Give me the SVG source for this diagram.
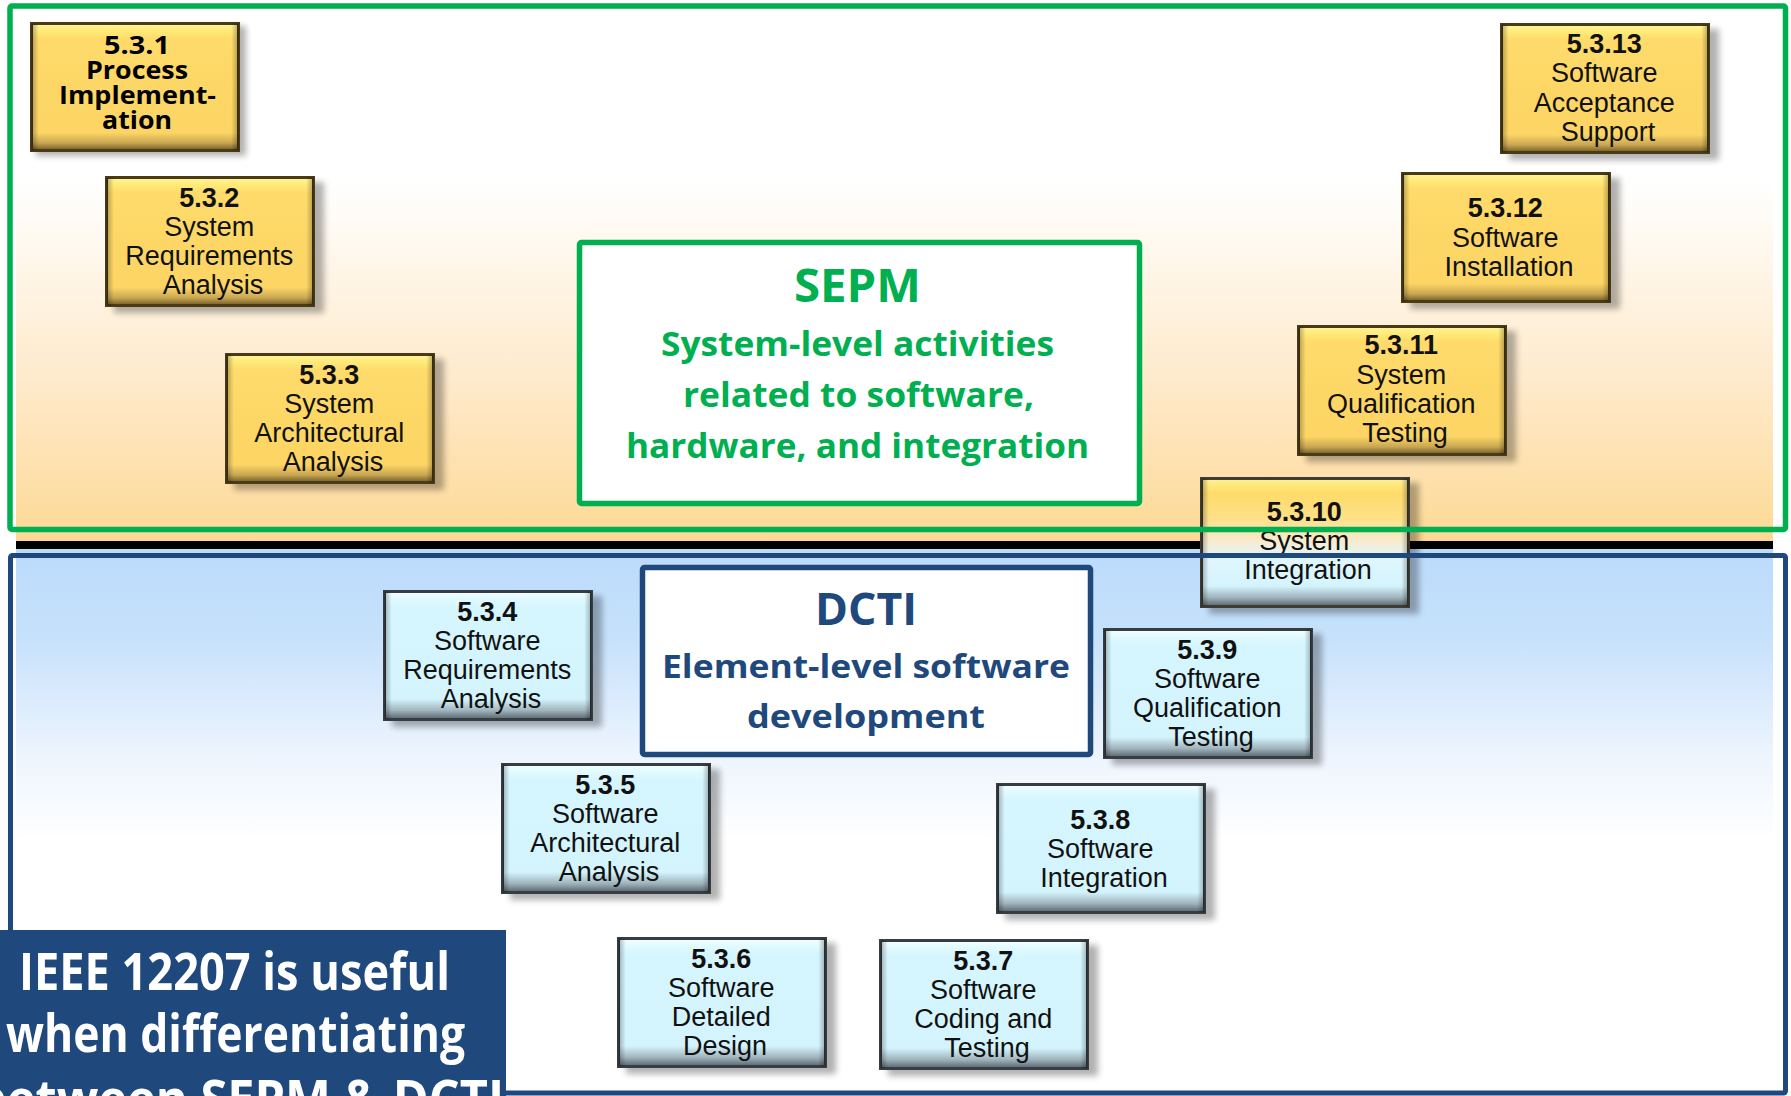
<svg xmlns="http://www.w3.org/2000/svg" width="1791" height="1096" viewBox="0 0 1791 1096">
  <defs>
    <linearGradient id="bandTop" gradientUnits="userSpaceOnUse" x1="0" y1="10" x2="0" y2="541">
      <stop offset="0" stop-color="#ffffff"/>
      <stop offset="0.32" stop-color="#ffffff"/>
      <stop offset="0.7" stop-color="#feeacb"/>
      <stop offset="1" stop-color="#fdd995"/>
    </linearGradient>
    <linearGradient id="bandLow" gradientUnits="userSpaceOnUse" x1="0" y1="549" x2="0" y2="840">
      <stop offset="0" stop-color="#bbdbfb"/>
      <stop offset="0.3" stop-color="#c6e1fb"/>
      <stop offset="0.72" stop-color="#eef5fe"/>
      <stop offset="1" stop-color="#ffffff"/>
    </linearGradient>
    <linearGradient id="gY" x1="0" y1="0" x2="0" y2="1">
      <stop offset="0" stop-color="#fff3a0"/>
      <stop offset="0.05" stop-color="#ffec7a"/>
      <stop offset="0.12" stop-color="#fedb6b"/>
      <stop offset="0.5" stop-color="#fdd766"/>
      <stop offset="0.86" stop-color="#fcd565"/>
      <stop offset="0.94" stop-color="#c9a752"/>
      <stop offset="1" stop-color="#6e5826"/>
    </linearGradient>
    <linearGradient id="gB" x1="0" y1="0" x2="0" y2="1">
      <stop offset="0" stop-color="#f6ffff"/>
      <stop offset="0.05" stop-color="#e2fbff"/>
      <stop offset="0.12" stop-color="#d6f6ff"/>
      <stop offset="0.84" stop-color="#d4f4fd"/>
      <stop offset="0.93" stop-color="#9fb3bc"/>
      <stop offset="1" stop-color="#55626a"/>
    </linearGradient>
    <linearGradient id="gMix" x1="0" y1="0" x2="0" y2="1">
      <stop offset="0" stop-color="#fff3a0"/>
      <stop offset="0.05" stop-color="#ffe87a"/>
      <stop offset="0.12" stop-color="#fedb6a"/>
      <stop offset="0.32" stop-color="#fde08a"/>
      <stop offset="0.5" stop-color="#f6ecd4"/>
      <stop offset="0.62" stop-color="#e0f6fc"/>
      <stop offset="0.84" stop-color="#d4f4fd"/>
      <stop offset="0.93" stop-color="#9fb3bc"/>
      <stop offset="1" stop-color="#55626a"/>
    </linearGradient>
    <linearGradient id="gSide" x1="0" y1="0" x2="1" y2="0">
      <stop offset="0" stop-color="#000" stop-opacity="0.3"/>
      <stop offset="0.035" stop-color="#000" stop-opacity="0"/>
      <stop offset="0.965" stop-color="#000" stop-opacity="0"/>
      <stop offset="1" stop-color="#000" stop-opacity="0.3"/>
    </linearGradient>
    <filter id="soft" x="-10%" y="-10%" width="125%" height="125%">
      <feGaussianBlur stdDeviation="3"/>
    </filter>
  </defs>

  <style>
    .shadow { fill: #000; opacity: 0.3; filter: url(#soft); }
    .sys .body { fill: url(#gY); stroke: #4a3b17; stroke-width: 3; }
    .sw .body { fill: url(#gB); stroke: #363d43; stroke-width: 3; }
    .mix .body { fill: url(#gMix); stroke: #3e3c33; stroke-width: 3; }
    .edge { fill: url(#gSide); }
    .nt { font-family: "Liberation Sans", Arial, sans-serif; font-size: 27px; fill: #111; text-anchor: middle; }
    .nt .num { font-weight: bold; }
    .cal { font-family: "Open Sans", "Noto Sans", sans-serif; font-weight: bold; text-anchor: start; }
    .pi { font-size: 25px; fill: #000; }
    .sepm { fill: #00b050; }
    .dcti { fill: #1f497d; }
    .note { fill: #ffffff; font-size: 52px; }
  </style>

  <rect width="1791" height="1096" fill="#ffffff"/>

  <!-- background bands of the process chart -->
  <rect x="16" y="10" width="1757" height="531" fill="url(#bandTop)"/>
  <rect x="16" y="549" width="1757" height="547" fill="url(#bandLow)"/>
  <rect x="16" y="541" width="1757" height="8" fill="#000"/>

  <!-- process boxes -->
  <g id="n5-3-1" class="sys">
    <rect class="shadow" x="36" y="26" width="210" height="130"/>
    <rect class="body" x="31.5" y="23.5" width="207" height="127"/>
    <rect class="edge" x="31.5" y="23.5" width="207" height="127"/>
    <text class="cal pi">
      <tspan x="104" y="54" textLength="66" lengthAdjust="spacingAndGlyphs">5.3.1</tspan>
      <tspan x="86" y="79" textLength="102" lengthAdjust="spacingAndGlyphs">Process</tspan>
      <tspan x="59" y="104" textLength="157" lengthAdjust="spacingAndGlyphs">Implement-</tspan>
      <tspan x="102" y="129" textLength="70" lengthAdjust="spacingAndGlyphs">ation</tspan>
    </text>
  </g>

  <g id="n5-3-2" class="sys">
    <rect class="shadow" x="114" y="182" width="210" height="131"/>
    <rect class="body" x="106.5" y="177.5" width="207" height="128"/>
    <rect class="edge" x="106.5" y="177.5" width="207" height="128"/>
    <text class="nt">
      <tspan class="num" x="213" y="207">5.3.2</tspan>
      <tspan x="213" y="236">System</tspan>
      <tspan x="213" y="265">Requirements</tspan>
      <tspan x="213" y="294">Analysis</tspan>
    </text>
  </g>

  <g id="n5-3-3" class="sys">
    <rect class="shadow" x="234" y="359" width="210" height="131"/>
    <rect class="body" x="226.5" y="354.5" width="207" height="128"/>
    <rect class="edge" x="226.5" y="354.5" width="207" height="128"/>
    <text class="nt">
      <tspan class="num" x="333" y="384">5.3.3</tspan>
      <tspan x="333" y="413">System</tspan>
      <tspan x="333" y="442">Architectural</tspan>
      <tspan x="333" y="471">Analysis</tspan>
    </text>
  </g>

  <g id="n5-3-4" class="sw">
    <rect class="shadow" x="392" y="596" width="210" height="131"/>
    <rect class="body" x="384.5" y="591.5" width="207" height="128"/>
    <rect class="edge" x="384.5" y="591.5" width="207" height="128"/>
    <text class="nt">
      <tspan class="num" x="491" y="621">5.3.4</tspan>
      <tspan x="491" y="650">Software</tspan>
      <tspan x="491" y="679">Requirements</tspan>
      <tspan x="491" y="708">Analysis</tspan>
    </text>
  </g>

  <g id="n5-3-5" class="sw">
    <rect class="shadow" x="510" y="769" width="210" height="131"/>
    <rect class="body" x="502.5" y="764.5" width="207" height="128"/>
    <rect class="edge" x="502.5" y="764.5" width="207" height="128"/>
    <text class="nt">
      <tspan class="num" x="609" y="794">5.3.5</tspan>
      <tspan x="609" y="823">Software</tspan>
      <tspan x="609" y="852">Architectural</tspan>
      <tspan x="609" y="881">Analysis</tspan>
    </text>
  </g>

  <g id="n5-3-6" class="sw">
    <rect class="shadow" x="626" y="943" width="210" height="131"/>
    <rect class="body" x="618.5" y="938.5" width="207" height="128"/>
    <rect class="edge" x="618.5" y="938.5" width="207" height="128"/>
    <text class="nt">
      <tspan class="num" x="725" y="968">5.3.6</tspan>
      <tspan x="725" y="997">Software</tspan>
      <tspan x="725" y="1026">Detailed</tspan>
      <tspan x="725" y="1055">Design</tspan>
    </text>
  </g>

  <g id="n5-3-7" class="sw">
    <rect class="shadow" x="888" y="945" width="210" height="131"/>
    <rect class="body" x="880.5" y="940.5" width="207" height="128"/>
    <rect class="edge" x="880.5" y="940.5" width="207" height="128"/>
    <text class="nt">
      <tspan class="num" x="987" y="970">5.3.7</tspan>
      <tspan x="987" y="999">Software</tspan>
      <tspan x="987" y="1028">Coding and</tspan>
      <tspan x="987" y="1057">Testing</tspan>
    </text>
  </g>

  <g id="n5-3-8" class="sw">
    <rect class="shadow" x="1005" y="789" width="210" height="131"/>
    <rect class="body" x="997.5" y="784.5" width="207" height="128"/>
    <rect class="edge" x="997.5" y="784.5" width="207" height="128"/>
    <text class="nt">
      <tspan class="num" x="1104" y="829">5.3.8</tspan>
      <tspan x="1104" y="858">Software</tspan>
      <tspan x="1104" y="887">Integration</tspan>
    </text>
  </g>

  <g id="n5-3-9" class="sw">
    <rect class="shadow" x="1112" y="634" width="210" height="131"/>
    <rect class="body" x="1104.5" y="629.5" width="207" height="128"/>
    <rect class="edge" x="1104.5" y="629.5" width="207" height="128"/>
    <text class="nt">
      <tspan class="num" x="1211" y="659">5.3.9</tspan>
      <tspan x="1211" y="688">Software</tspan>
      <tspan x="1211" y="717">Qualification</tspan>
      <tspan x="1211" y="746">Testing</tspan>
    </text>
  </g>

  <g id="n5-3-10" class="mix">
    <rect class="shadow" x="1209" y="483" width="210" height="131"/>
    <rect class="body" x="1201.5" y="478.5" width="207" height="128"/>
    <rect class="edge" x="1201.5" y="478.5" width="207" height="128"/>
    <text class="nt">
      <tspan class="num" x="1308" y="521">5.3.10</tspan>
      <tspan x="1308" y="550">System</tspan>
      <tspan x="1308" y="579">Integration</tspan>
    </text>
  </g>

  <g id="n5-3-11" class="sys">
    <rect class="shadow" x="1306" y="331" width="210" height="131"/>
    <rect class="body" x="1298.5" y="326.5" width="207" height="128"/>
    <rect class="edge" x="1298.5" y="326.5" width="207" height="128"/>
    <text class="nt">
      <tspan class="num" x="1405" y="354">5.3.11</tspan>
      <tspan x="1405" y="384">System</tspan>
      <tspan x="1405" y="413">Qualification</tspan>
      <tspan x="1405" y="442">Testing</tspan>
    </text>
  </g>

  <g id="n5-3-12" class="sys">
    <rect class="shadow" x="1410" y="178" width="210" height="131"/>
    <rect class="body" x="1402.5" y="173.5" width="207" height="128"/>
    <rect class="edge" x="1402.5" y="173.5" width="207" height="128"/>
    <text class="nt">
      <tspan class="num" x="1509" y="217">5.3.12</tspan>
      <tspan x="1509" y="247">Software</tspan>
      <tspan x="1509" y="276">Installation</tspan>
    </text>
  </g>

  <g id="n5-3-13" class="sys">
    <rect class="shadow" x="1509" y="29" width="210" height="131"/>
    <rect class="body" x="1501.5" y="24.5" width="207" height="128"/>
    <rect class="edge" x="1501.5" y="24.5" width="207" height="128"/>
    <text class="nt">
      <tspan class="num" x="1608" y="53">5.3.13</tspan>
      <tspan x="1608" y="82">Software</tspan>
      <tspan x="1608" y="112">Acceptance</tspan>
      <tspan x="1608" y="141">Support</tspan>
    </text>
  </g>

  <!-- SEPM caption -->
  <g id="sepm">
    <rect x="579.5" y="242.5" width="560" height="261" rx="2" fill="#ffffff" stroke="#00b050" stroke-width="5.5"/>
    <text class="cal sepm">
      <tspan x="794" y="302" font-size="47" textLength="127" lengthAdjust="spacingAndGlyphs">SEPM</tspan>
      <tspan x="661" y="356" font-size="34" textLength="393" lengthAdjust="spacingAndGlyphs">System-level activities</tspan>
      <tspan x="683" y="407" font-size="34" textLength="351" lengthAdjust="spacingAndGlyphs">related to software,</tspan>
      <tspan x="626" y="458" font-size="34" textLength="463" lengthAdjust="spacingAndGlyphs">hardware, and integration</tspan>
    </text>
  </g>

  <!-- DCTI caption -->
  <g id="dcti">
    <rect x="642.5" y="567.5" width="448" height="187" rx="2" fill="#ffffff" stroke="#1f497d" stroke-width="5.5"/>
    <text class="cal dcti">
      <tspan x="815" y="625" font-size="45" textLength="102" lengthAdjust="spacingAndGlyphs">DCTI</tspan>
      <tspan x="662" y="678" font-size="33" textLength="408" lengthAdjust="spacingAndGlyphs">Element-level software</tspan>
      <tspan x="747" y="728" font-size="33" textLength="238" lengthAdjust="spacingAndGlyphs">development</tspan>
    </text>
  </g>

  <!-- group outlines -->
  <g id="groups" fill="none">
    <rect x="10" y="6" width="1775.5" height="523.5" rx="2" stroke="#00b050" stroke-width="5.5"/>
    <rect x="10.5" y="555.5" width="1775" height="537.5" rx="2" stroke="#1f497d" stroke-width="5"/>
  </g>

  <!-- note -->
  <g id="note">
    <rect x="0" y="930" width="506" height="166" fill="#1f497d"/>
    <text class="cal note">
      <tspan x="19" y="990" textLength="431" lengthAdjust="spacingAndGlyphs">IEEE 12207 is useful</tspan>
      <tspan x="6" y="1052" textLength="459" lengthAdjust="spacingAndGlyphs">when differentiating</tspan>
      <tspan x="-24" y="1117" textLength="528" lengthAdjust="spacingAndGlyphs">between SEPM &amp; DCTI</tspan>
    </text>
  </g>
</svg>
